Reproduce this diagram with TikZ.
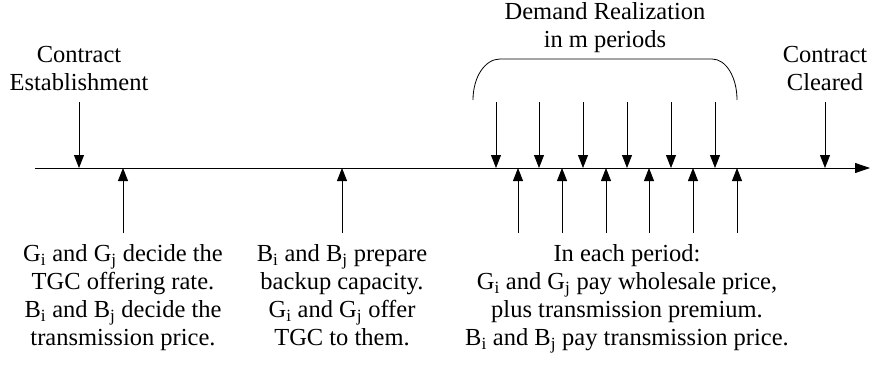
\documentclass[tikz,border=0pt]{standalone}
\usepackage{fontspec}
\setmainfont{Liberation Serif}
\usetikzlibrary{arrows.meta,positioning}

\tikzset{
  lbl/.style={align=center, inner sep=0pt, font=\fontsize{24.5}{28}\selectfont},
  evt/.style={line width=0.8pt, -{Triangle[length=13pt,width=10pt]}}
}

\begin{document}
\begin{tikzpicture}[x=1pt, y=-1pt, line width=0.8pt]
  \useasboundingbox (0,0) rectangle (872,367);
  % time axis
  \coordinate (t0) at (35,168);
  \coordinate (t1) at (870,168);
  \draw [-{Triangle[length=15pt,width=10pt]}] (t0) -- (t1);

  % labels above the axis
  \node [lbl, anchor=south] (est) at (79,91) {Contract\\Establishment};
  \node [lbl, anchor=south] (clr) at (825,91) {Contract\\Cleared};
  \node [lbl, anchor=north] (dem) at (605,2) {Demand Realization\\in m periods};

  % bracket over the m periods
  \coordinate (bl) at (473,100);
  \coordinate (br) at (737,100);
  \draw (bl) .. controls (473,77) and (485,59) .. (500,59) -- (712,59)
        .. controls (726,59) and (737,77) .. (br);

  % events falling on the axis
  \foreach \x [count=\i] in {79,496,539,583,627,671,715,825}{
    \coordinate (dn\i) at (\x,102);
    \draw [evt] (dn\i) -- (dn\i |- t0);
  }
  % decisions and payments
  \foreach \x [count=\i] in {123,342,518,562,606,649,693,737}{
    \coordinate (up\i) at (\x,233);
    \draw [evt] (up\i) -- (up\i |- t0);
  }

  % labels below the axis
  \node [lbl, anchor=north] (gen) at (123,244)
    {G\textsubscript{i} and G\textsubscript{j} decide the\\TGC offering rate.\\B\textsubscript{i} and B\textsubscript{j} decide the\\transmission price.};
  \node [lbl, anchor=north] (bak) at (342,244)
    {B\textsubscript{i} and B\textsubscript{j} prepare\\backup capacity.\\G\textsubscript{i} and G\textsubscript{j} offer\\TGC to them.};
  \node [lbl, anchor=north] (per) at (627,244)
    {In each period:\\G\textsubscript{i} and G\textsubscript{j} pay wholesale price,\\plus transmission premium.\\B\textsubscript{i} and B\textsubscript{j} pay transmission price.};
\end{tikzpicture}
\end{document}
